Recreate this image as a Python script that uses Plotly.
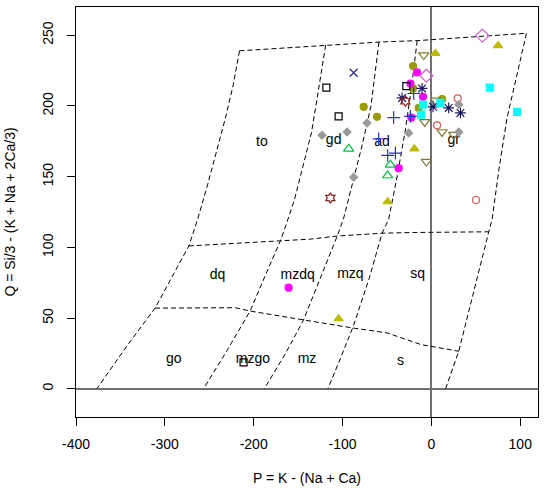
import plotly.graph_objects as go

# ---- field boundaries (P, Q) ----
top_x = [-216, -119, -59, -16, 107]
top_y = [239, 243, 245.2, 246.2, 251.4]
lineA_x = [-216, -223, -232, -242, -252, -263, -273, -292, -311, -343, -376.5]
lineA_y = [239, 215, 191, 167, 144, 120, 101, 79, 57, 30, 0]
lineB_x = [-119, -124, -130, -135, -144, -154, -164, -170, -187, -204, -230, -256.4]
lineB_y = [243, 222, 200, 181, 158, 134, 115, 104.6, 80, 55, 27, 0]
lineC_x = [-59, -64, -68, -78, -88, -99, -106, -116, -126, -144, -165, -188]
lineC_y = [245.2, 222, 200, 172, 148, 120, 108, 92, 76, 48.5, 24, 0]
lineD_x = [-16, -22, -29, -38, -48, -55.5, -70, -88, -102, -116.5]
lineD_y = [246.2, 215, 184, 152, 120, 110, 78, 44, 22, 0]
lineE_x = [107, 96, 85, 76, 68.4, 64.6, 48, 30.8, 16]
lineE_y = [251.4, 220, 191, 155, 120, 111, 70, 26.5, 0]
line1_x = [-273, -220, -170, -136, -106, -55.5, -20, 64.6]
line1_y = [101, 103, 104.6, 105.8, 108, 110, 110.5, 111]
line2_x = [-311, -220.7, -203.8, -170, -144, -125, -89, -50, -12, 30.8]
line2_y = [57, 57.3, 54.9, 51.3, 48.5, 46.5, 43, 39.5, 31.3, 26.5]

# ---- field names ----
field_names = ["to", "gd", "ad", "gr", "dq", "mzdq", "mzq", "sq", "go", "mzgo", "mz", "s"]
field_x = [-190.7, -110, -55.5, 25.1, -240.6, -150.5, -91.2, -15.4, -290, -200.8, -140, -34.9]
field_y = [174.5, 175.6, 174.5, 175.6, 79.8, 79.8, 81, 81, 20.6, 20.6, 20.6, 19.4]

# ---- samples ----
olive_circle_x = [-20.6, -20.6, 12, -14.3, -76.2, -61.2]
olive_circle_y = [228.2, 212.4, 204.8, 198.6, 199.4, 192.3]
yellow_tri_x = [75.1, 4.5, -19.1, -49.2, -104.4]
yellow_tri_y = [242.7, 237.2, 169.7, 132.3, 49.5]
olive_dtri_x = [-8.6, 4.5, -7.5, 12, 25.1, -5.6]
olive_dtri_y = [236, 204, 188.7, 181.6, 179.7, 160.7]
magenta_x = [-16.1, -23.6, -9.4, -22.5, -36.8, -160.7]
magenta_y = [223.7, 215.9, 206.5, 191.8, 156, 71.5]
pink_diam_x = [57.4, -5.6]
pink_diam_y = [249.8, 221.4]
navy_x_x = [-87.5]
navy_x_y = [223.5]
black_sq_x = [-118.2, -28.2, -104.4, -211.4]
black_sq_y = [213, 214, 192.7, 18.7]
navy_ast_x = [-10.5, -33, 1.9, 19.5, 32.7]
navy_ast_y = [212.4, 205.7, 199.4, 198.6, 195.1]
blue_plus_x = [-19.9, -23.6, -42.5, -59.3, -49.2, -40.5]
blue_plus_y = [208.8, 192.7, 191.8, 176.8, 165, 166.7]
red_star_x = [-29.3, -113.7]
red_star_y = [203.4, 134.9]
cyan_sq_x = [-9.4, 10.1, -11.6, 96.5, 65.7]
cyan_sq_y = [201, 202.2, 193.9, 195.8, 213]
red_circ_x = [29.6, 6.4, 50.3]
red_circ_y = [205.3, 186.3, 133.5]
gray_diam_x = [30.8, 30.8, -72.4, -94.9, -123.1, -25.6, -87.5]
gray_diam_y = [201, 181.6, 188, 181.6, 179.2, 180.9, 149.6]
green_tri_x = [-93.1, -46.2, -49.2]
green_tri_y = [169.7, 158.4, 150.8]

x_ticks = [-400, -300, -200, -100, 0, 100]
y_ticks = [0, 50, 100, 150, 200, 250]

FONT = "Liberation Sans, Arial, sans-serif"
fig = go.Figure()

dash_style = dict(color="black", width=1, dash="5px,3px")
for lx, ly in [(top_x, top_y), (lineA_x, lineA_y), (lineB_x, lineB_y), (lineC_x, lineC_y),
               (lineD_x, lineD_y), (lineE_x, lineE_y), (line1_x, line1_y), (line2_x, line2_y)]:
    fig.add_trace(go.Scatter(x=lx, y=ly, mode="lines", line=dash_style, hoverinfo="skip"))

fig.add_trace(go.Scatter(x=field_x, y=field_y, mode="text", text=field_names,
                         textfont=dict(family=FONT, size=14, color="black")))

series = [
    (olive_circle_x, olive_circle_y, "circle", "#9C9A00", 7),
    (yellow_tri_x, yellow_tri_y, "triangle-up", "#BDBA00", 8),
    (olive_dtri_x, olive_dtri_y, "triangle-down-open", "#7F7A35", 9),
    (magenta_x, magenta_y, "circle", "#FF00FF", 7),
    (pink_diam_x, pink_diam_y, "diamond-open", "#CC66CC", 10),
    (navy_x_x, navy_x_y, "x-thin-open", "#2A2A80", 8),
    (black_sq_x, black_sq_y, "square-open", "#000000", 7),
    (navy_ast_x, navy_ast_y, "asterisk-open", "#1A1A60", 9),
    (blue_plus_x, blue_plus_y, "cross-thin-open", "#2B2BD0", 9),
    (red_star_x, red_star_y, "hexagram-open", "#8B1A1A", 8),
    (cyan_sq_x, cyan_sq_y, "square", "#00FFFF", 7),
    (red_circ_x, red_circ_y, "circle-open", "#D05858", 7),
    (gray_diam_x, gray_diam_y, "diamond", "#9A9A9A", 6),
    (green_tri_x, green_tri_y, "triangle-up-open", "#00C040", 9),
]
for sx, sy, sym, col, sz in series:
    fig.add_trace(go.Scatter(x=sx, y=sy, mode="markers",
                             marker=dict(symbol=sym, color=col, size=sz,
                                         line=dict(color=col, width=1.2))))

axis_common = dict(showgrid=False, showline=True, mirror=True, linecolor="black", linewidth=1,
                   ticks="outside", ticklen=8, tickcolor="black", tickwidth=1, automargin=False,
                   zeroline=True, zerolinecolor="#707070", zerolinewidth=1.5,
                   tickfont=dict(family=FONT, size=14, color="black"))

fig.update_layout(
    width=550, height=493,
    margin=dict(l=76, r=12, t=7, b=76),
    plot_bgcolor="white", paper_bgcolor="white",
    showlegend=False,
    xaxis=dict(range=[-400, 120], tickvals=x_ticks, ticktext=[str(v) for v in x_ticks],
               ticklabelstandoff=6,
               title=dict(text="P = K - (Na + Ca)", font=dict(family=FONT, size=14, color="black"),
                          standoff=22),
               **axis_common),
    yaxis=dict(range=[-20, 270], tickvals=y_ticks, ticktext=[str(v) for v in y_ticks], tickangle=-90,
               ticklabelstandoff=8,
               title=dict(text="Q = Si/3 - (K + Na + 2Ca/3)", font=dict(family=FONT, size=14, color="black"),
                          standoff=21),
               **axis_common),
)

fig.write_html("out.html", config={"displayModeBar": False},
               post_script="document.body.style.margin='0px';document.body.style.overflow='hidden';")
